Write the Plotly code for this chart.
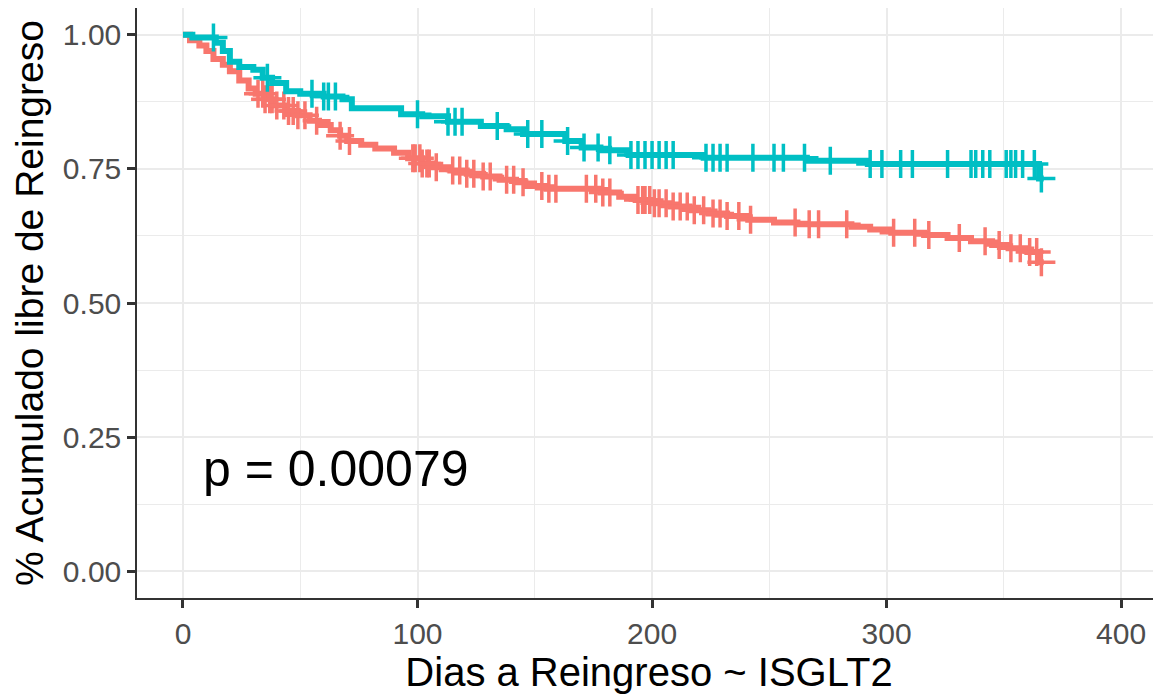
import numpy as np
import plotly.graph_objects as go

# Kaplan-Meier step data (time in days, survival)
teal_times = [0, 4, 14, 17, 20, 24, 30, 34, 38, 44, 50, 60, 68, 72, 93, 102, 113, 127, 138, 145,
              163, 170, 178, 190, 222, 266, 292, 365, 367]
teal_surv = [1.0, 0.995, 0.985, 0.97, 0.95, 0.94, 0.935, 0.92, 0.91, 0.895, 0.89, 0.885, 0.88, 0.863,
             0.852, 0.848, 0.838, 0.83, 0.824, 0.815, 0.802, 0.79, 0.785, 0.776, 0.771, 0.765, 0.759,
             0.732, 0.732]
teal_censor = [13, 36, 55, 60, 62, 65, 100, 113, 116, 119, 134, 147, 153, 164, 171, 177, 182,
               191, 194, 197, 200, 203, 206, 209, 223, 226, 229, 232, 243, 252, 256, 265, 276,
               293, 298, 306, 311, 326, 336, 338, 341, 344, 351, 353, 355, 358, 363, 366]

red_times = [0, 3, 7, 10, 13, 17, 20, 24, 28, 31, 35, 39, 44, 49, 54, 58, 63, 67, 70, 76, 82, 90,
             96, 102, 107, 114, 121, 128, 135, 142, 146, 155, 178, 186, 193, 200, 208, 216, 224,
             232, 241, 252, 262, 285, 293, 302, 316, 326, 336, 345, 352, 360, 365, 367]
red_surv = [1.0, 0.99, 0.98, 0.97, 0.955, 0.944, 0.932, 0.915, 0.9, 0.89, 0.88, 0.868, 0.858, 0.85,
            0.84, 0.832, 0.822, 0.812, 0.802, 0.795, 0.788, 0.78, 0.77, 0.76, 0.753, 0.747, 0.741,
            0.736, 0.73, 0.725, 0.718, 0.713, 0.706, 0.698, 0.692, 0.686, 0.68, 0.673, 0.667, 0.662,
            0.655, 0.65, 0.647, 0.642, 0.637, 0.631, 0.627, 0.621, 0.615, 0.608, 0.602, 0.595,
            0.576, 0.576]
red_censor = [32, 34, 35, 37, 38, 40, 43, 45, 47, 49, 52, 57, 67, 71, 98, 99, 101, 102, 104, 105,
              108, 115, 118, 121, 124, 128, 131, 138, 141, 145, 153, 156, 159, 172, 176, 179, 182,
              194, 196, 197, 199, 201, 203, 206, 209, 212, 215, 218, 222, 226, 229, 232, 237, 242,
              261, 267, 271, 283, 303, 312, 318, 331, 342, 348, 353, 357, 361, 364, 366]

pval_text = "p = 0.00079"
x_ticks = [0, 100, 200, 300, 400]
y_ticks = [0.0, 0.25, 0.5, 0.75, 1.0]
y_ticklabels = ["0.00", "0.25", "0.50", "0.75", "1.00"]

TEAL = "#00BFC4"
RED = "#F8766D"


def step_at(times, surv, t):
    times = np.asarray(times)
    surv = np.asarray(surv)
    idx = np.searchsorted(times, np.asarray(t), side="right") - 1
    return surv[idx]


fig = go.Figure()
for name, times, surv, cens, col in [
    ("ISGLT2=No", red_times, red_surv, red_censor, RED),
    ("ISGLT2=Sí", teal_times, teal_surv, teal_censor, TEAL),
]:
    fig.add_trace(go.Scatter(x=times, y=surv, mode="lines", line=dict(color=col, width=6, shape="hv"),
                             name=name, showlegend=False))
    fig.add_trace(go.Scatter(x=cens, y=step_at(times, surv, cens), mode="markers",
                             marker=dict(symbol="cross-thin", size=20, color=col,
                                         line=dict(color=col, width=3.5)),
                             showlegend=False, name=name))

fig.add_annotation(x=7.5, y=0.19, xref="x", yref="y", text=pval_text, showarrow=False,
                   xanchor="left", yanchor="middle",
                   font=dict(family="Liberation Sans", size=50, color="black"))

axis_common = dict(showline=True, mirror=True, linecolor="#333333", linewidth=1.5,
                   ticks="outside", ticklen=8, tickwidth=2.5, tickcolor="#333333",
                   showgrid=True, gridcolor="#EBEBEB", gridwidth=2, zeroline=False,
                   tickfont=dict(family="Liberation Sans", size=30, color="#4D4D4D"))

fig.update_xaxes(range=[-19.6, 417], tickvals=x_ticks, ticktext=[str(v) for v in x_ticks],
                 title=dict(text="Dias a Reingreso ~ ISGLT2", standoff=1,
                            font=dict(family="Liberation Sans", size=40, color="black")),
                 minor=dict(dtick=50, tick0=0, showgrid=True, gridcolor="#EBEBEB", gridwidth=1, ticklen=0),
                 **axis_common)
fig.update_yaxes(range=[-0.05, 1.05], tickvals=y_ticks, ticktext=y_ticklabels,
                 title=dict(text="% Acumulado libre de Reingreso", standoff=12,
                            font=dict(family="Liberation Sans", size=39, color="black")),
                 minor=dict(dtick=0.125, tick0=0, showgrid=True, gridcolor="#EBEBEB", gridwidth=1, ticklen=0),
                 **axis_common)

# page body has an 8px margin; size figure so the plot panel lands where the reference has it
fig.update_layout(width=1153, height=689, margin=dict(l=129, r=0, t=0, b=99, autoexpand=False),
                  plot_bgcolor="white", paper_bgcolor="white",
                  font=dict(family="Liberation Sans"))

fig.write_html("out.html")
